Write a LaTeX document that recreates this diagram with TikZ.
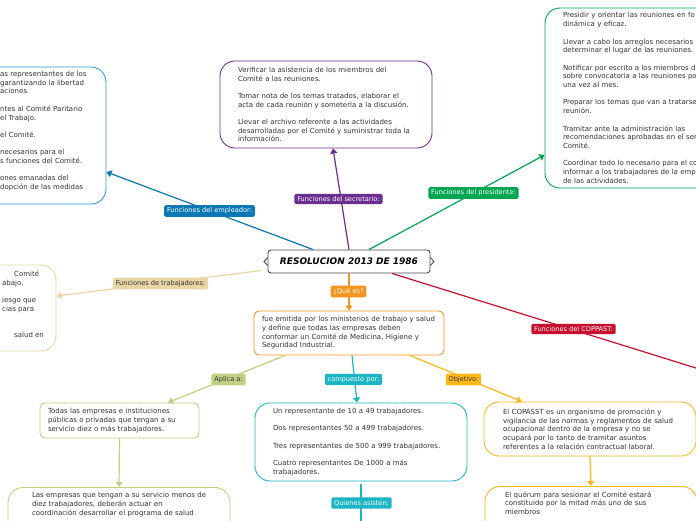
\documentclass[tikz,border=0pt]{standalone}
\usepackage{fontspec}
\setmainfont{DejaVu Sans}
\usetikzlibrary{
    arrows.meta,
    calc,
    positioning
}
\definecolor{empblue}{HTML}{0A78B4}
\definecolor{empline}{HTML}{2A9EE0}
\definecolor{secpurple}{HTML}{6C2D91}
\definecolor{presgreen}{HTML}{00A651}
\definecolor{trabtan}{HTML}{E8D5A3}
\definecolor{coppred}{HTML}{C8102E}
\definecolor{queorange}{HTML}{F7941D}
\definecolor{aplgreen}{HTML}{BFD083}
\definecolor{compcyan}{HTML}{1BB5C4}
\definecolor{objyellow}{HTML}{FBB818}
\definecolor{txtgray}{HTML}{333333}
\newcommand{\boxfont}{\fontsize{7}{8.7}\selectfont}
\newcommand{\tagfont}{\fontsize{6.6}{8}\selectfont}

\begin{document}
\begin{tikzpicture}[
        x=1pt, y=-1pt,
        box/.style={draw, fill=white, line width=0.9pt, rounded corners=15pt, align=left,
            font=\boxfont, text=txtgray, inner xsep=18pt, inner ysep=0pt},
        smallbox/.style={box, rounded corners=5pt, inner xsep=8pt},
        boxtext/.style={align=left, font=\boxfont, text=txtgray, inner sep=0pt, anchor=north west},
        tag/.style={rounded corners=1.5pt, font=\tagfont, text=white, inner xsep=2.8pt, inner ysep=2.6pt},
        link/.style={line width=1.2pt},
        arrow/.style={link, -{Triangle[width=7pt,length=5pt]}}
    ]
                    \path[fill=white, use as bounding box] (0,0) rectangle (696,520);

                    % centre
                    \node[draw=black!70, line width=0.9pt, rounded corners=3pt, fill=white,
                        minimum width=162pt, minimum height=23pt,
                        font=\fontsize{9}{10}\selectfont\bfseries\itshape] (title) at (349,261.5) {RESOLUCION 2013 DE 1986};
                    \draw[black!70, line width=0.9pt]
                    ([yshift=4pt]title.west) -- ([xshift=-3.5pt]title.west) -- ([yshift=-4pt]title.west)
                    ([yshift=4pt]title.east) -- ([xshift=3.5pt]title.east) -- ([yshift=-4pt]title.east);

                    % upper branches
                    \node[box, draw=secpurple, minimum width=212pt, minimum height=87pt, text width=176pt] (sec) at (326,104.5)
                    {Verificar la asistencia de los miembros del\\ Comité a las reuniones.\\[8.7pt]
                    Tomar nota de los temas tratados, elaborar el\\ acta de cada reunión y someterla a la discusión.\\[8.7pt]
                    Llevar el archivo referente a las actividades\\ desarrolladas por el Comité y suministrar toda la\\ información.};
                    \node[box, draw=empline, minimum width=160pt, minimum height=137pt] (emp) at (26,135.5) {};
                    \node[boxtext] (emptxt) at (0,71) {as representantes de los\\ garantizando la libertad\\ aciones.\\[8.7pt]
                    ntes al Comité Paritario\\ el Trabajo.\\[8.7pt] el Comité.\\[8.7pt]
                    necesarios para el\\ s funciones del Comité.\\[8.7pt] ones emanadas del\\ dopción de las medidas};
                    \node[box, draw=presgreen, minimum width=215pt, minimum height=180pt, text width=179pt] (pres) at (652.5,98)
                    {Presidir y orientar las reuniones en fo\\ dinámica y eficaz.\\[8.7pt]
                    Llevar a cabo los arreglos necesarios\\ determinar el lugar de las reuniones.\\[8.7pt]
                    Notificar por escrito a los miembros d\\ sobre convocatoria a las reuniones po\\ una vez al mes.\\[8.7pt]
                    Preparar los temas que van a tratarse\\ reunión.\\[8.7pt]
                    Tramitar ante la administración las\\ recomendaciones aprobadas en el ser\\ Comité.\\[8.7pt]
                    Coordinar todo lo necesario para el co\\ informar a los trabajadores de la emp\\ de las actividades.};
                    \node[box, draw=trabtan, minimum width=120pt, minimum height=86pt] (trab) at (-4,308) {};
                    \node[boxtext] (trabtxt) at (2,270.5) {\hspace*{12pt}Comité\\ abajo.\\[8.7pt] iesgo que\\ cias para\\[17.4pt]
                    \hspace*{12pt}salud en};

                    % lower branches
                    \node[smallbox, draw=queorange, minimum width=190pt, minimum height=44pt, text width=174pt] (what) at (349,333)
                    {fue emitida por los ministerios de trabajo y salud\\ y define que todas las empresas deben\\
                    conformar un Comité de Medicina, Higiene y\\ Seguridad Industrial.};
                    \node[smallbox, draw=aplgreen, minimum width=159pt, minimum height=35pt, text width=143pt] (todas) at (119.5,420.5)
                    {Todas las empresas e instituciones\\ públicas o privadas que tengan a su\\ servicio diez o más trabajadores.};
                    \node[box, draw=aplgreen, minimum width=222pt, text width=174pt, inner xsep=24pt, inner ysep=5pt,
                        text depth=60pt, anchor=north] (lasemp) at (119,487)
                    {\mbox{Las empresas que tengan a su servicio menos de}\\ diez trabajadores, deberán actuar en\\
                    coordinación desarrollar el programa de salud};
                    \node[box, draw=compcyan, minimum width=212pt, minimum height=78pt, text width=176pt] (comp) at (361,442)
                    {Un representante de 10 a 49 trabajadores.\\[8.7pt] Dos representantes 50 a 499 trabajadores.\\[8.7pt]
                    Tres representantes de 500 a 999 trabajadores.\\[8.7pt] Cuatro representantes De 1000 a más\\ trabajadores.};
                    \node[box, draw=objyellow, minimum width=212pt, minimum height=54pt, text width=174pt, inner xsep=19pt] (goal) at (590,429)
                    {El COPASST es un organismo de promoción y\\ vigilancia de las normas y reglamentos de salud\\
                    ocupacional dentro de la empresa y no se\\ ocupará por lo tanto de tramitar asuntos\\
                    referentes a la relación contractual laboral.};
                    \node[box, draw=objyellow, minimum width=212pt, text width=172pt, inner xsep=20pt, inner ysep=5pt,
                        text depth=60pt, anchor=north] (quorum) at (591,486)
                    {El quórum para sesionar el Comité estará\\ constituido por la mitad más uno de sus\\ miembros};

                    \coordinate (coppend) at (730,378.6);
                    \coordinate (quiend) at (361,530);

                    \draw
                    ([xshift=-36pt]title.north) edge[arrow, empblue] ([yshift=-36.5pt]emp.east)
                    (title.north) edge[arrow, secpurple] ([xshift=7pt]sec.south)
                    ([xshift=20pt]title.north) edge[arrow, presgreen] ([yshift=-57pt]pres.west)
                    ([xshift=-6pt,yshift=-9pt]title.west) edge[arrow, trabtan] ([yshift=12pt]trab.east)
                    ([xshift=43pt]title.south) edge[link, coppred] (coppend)
                    (title.south) edge[arrow, queorange] (what.north)
                    ([xshift=-64pt]what.south) edge[arrow, aplgreen] ([xshift=48.5pt]todas.north)
                    ([xshift=3pt]what.south) edge[arrow, compcyan] ([xshift=-4pt]comp.north)
                    ([xshift=61pt]what.south) edge[arrow, objyellow] ([xshift=-68pt]goal.north)
                    (todas.south) edge[arrow, aplgreen] (lasemp.north)
                    ([yshift=-3pt]comp.south) edge[link, compcyan] (quiend)
                    (goal.south) edge[arrow, objyellow] (quorum.north);

                    % labels on the connectors
                    \node[tag, fill=empblue] (emptag) at (209.5,211) {Funciones del empleador:};
                    \node[tag, fill=secpurple] (sectag) at (338.5,199) {Funciones del secretario:};
                    \node[tag, fill=presgreen] (prestag) at (473.5,193) {Funciones del presidente:};
                    \node[tag, fill=trabtan, text=txtgray] (trabtag) at (160.5,283.5) {Funciones de trabajadores:};
                    \node[tag, fill=queorange] (quetag) at (348.5,291.5) {¿Qué es?};
                    \node[tag, fill=aplgreen, text=txtgray] (apltag) at (228.5,379.5) {Aplica a:};
                    \node[tag, fill=compcyan] (comptag) at (353.5,379.5) {compuesto por:};
                    \node[tag, fill=objyellow, text=txtgray] (objtag) at (463.5,379.5) {Objetivo:};
                    \node[tag, fill=coppred] (copptag) at (573.5,329) {Funciones del COPPAST:};
                    \node[tag, fill=compcyan] (quientag) at (361.5,503) {Quienes asisten:};
                \end{tikzpicture}
\end{document}
